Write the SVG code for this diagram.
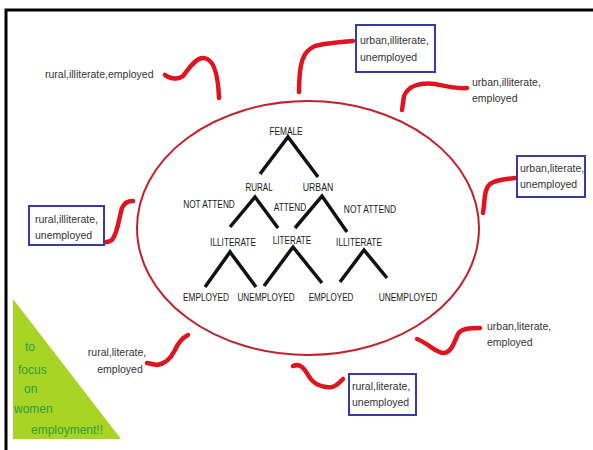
<svg xmlns="http://www.w3.org/2000/svg" width="593" height="450" viewBox="0 0 593 450">
<style>
.lbl{font-family:"Liberation Sans",Arial,sans-serif;font-size:10.5px;fill:#333}
.tree{font-family:"Liberation Sans",Arial,sans-serif;font-size:11.5px;fill:#1a1a1a;text-anchor:middle}
.green{font-family:"Liberation Sans",Arial,sans-serif;font-size:12px;fill:#2e9e3e}
.box{fill:#fff;stroke:#3a3aa6;stroke-width:2}
.branch{stroke:#111;stroke-width:3.5;fill:none;stroke-linecap:butt}
.sq{stroke:#e0141e;stroke-width:4.5;fill:none;stroke-linecap:round;stroke-linejoin:round}
</style>
<rect width="593" height="450" fill="#fff"/>
<path d="M6,450 V10 H593" fill="none" stroke="#000" stroke-width="3"/>
<ellipse cx="308" cy="228" rx="171" ry="127" fill="none" stroke="#c0222c" stroke-width="2"/>
<polygon points="13,299 13,439 121,439" fill="#a8d426"/>

<g id="connectors">
<path class="branch" d="M260,174 L288,137 L318,177"/>
<path class="branch" d="M230,227 L255,197 L278,228"/>
<path class="branch" d="M295,228 L322,196 L347,232"/>
<path class="branch" d="M205,287 L230,252 L256,287"/>
<path class="branch" d="M264,286 L293,247 L322,283"/>
<path class="branch" d="M340,282 L364,250 L387,278"/>
<path class="sq" d="M165,75 C170,79 178,80 183,76 C188,70 195,58 203,58 C212,58 218,70 219,98"/>
<path class="sq" d="M353,41 C340,42 325,43 315,46 C303,51 299,62 299,92"/>
<path class="sq" d="M467,88 C455,89 445,86 435,84 C420,82 408,86 404,96 L402,110"/>
<path class="sq" d="M515,178 C505,179 495,180 490,184 C484,189 485,200 483,213"/>
<path class="sq" d="M133,201 C128,201 124,203 122,208 C119,218 118,232 112,240 C108,243 100,243 95,242"/>
<path class="sq" d="M188,335 C182,338 178,343 175,350 C171,358 165,364 157,365 L147,363"/>
<path class="sq" d="M293,366 C300,363 304,368 308,375 C313,384 322,388 332,387 C337,386 340,382 343,379"/>
<path class="sq" d="M480,328 C470,328 462,328 458,334 C454,342 452,352 444,353 C436,353 428,343 417,339"/>
</g>

<g id="female" transform="translate(286,135) scale(0.72,1)"><text class="tree">FEMALE</text></g>
<g id="rural" transform="translate(259,191) scale(0.7,1)"><text class="tree">RURAL</text></g>
<g id="urban" transform="translate(318,191) scale(0.76,1)"><text class="tree">URBAN</text></g>
<g id="not-attend-left" transform="translate(209,208) scale(0.72,1)"><text class="tree">NOT ATTEND</text></g>
<g id="attend" transform="translate(290,211) scale(0.72,1)"><text class="tree">ATTEND</text></g>
<g id="not-attend-right" transform="translate(370,213) scale(0.73,1)"><text class="tree">NOT ATTEND</text></g>
<g id="illiterate-left" transform="translate(233,246) scale(0.72,1)"><text class="tree">ILLITERATE</text></g>
<g id="literate" transform="translate(292,244) scale(0.71,1)"><text class="tree">LITERATE</text></g>
<g id="illiterate-right" transform="translate(359,246) scale(0.72,1)"><text class="tree">ILLITERATE</text></g>
<g id="employed-1" transform="translate(206,301) scale(0.72,1)"><text class="tree">EMPLOYED</text></g>
<g id="unemployed-1" transform="translate(266,301) scale(0.71,1)"><text class="tree">UNEMPLOYED</text></g>
<g id="employed-2" transform="translate(331,301) scale(0.7,1)"><text class="tree">EMPLOYED</text></g>
<g id="unemployed-2" transform="translate(408,301) scale(0.73,1)"><text class="tree">UNEMPLOYED</text></g>

<g id="rural-illiterate-employed"><text class="lbl" x="45" y="78">rural,illiterate,employed</text></g>
<g id="urban-illiterate-unemployed">
<rect class="box" x="356" y="25" width="79" height="47"/>
<text class="lbl" x="360" y="44">urban,illiterate,</text>
<text class="lbl" x="360" y="61">unemployed</text>
</g>
<g id="urban-illiterate-employed">
<text class="lbl" x="472" y="86">urban,illiterate,</text>
<text class="lbl" x="472" y="102">employed</text>
</g>
<g id="urban-literate-unemployed">
<rect class="box" x="517" y="156" width="68" height="41"/>
<text class="lbl" x="520" y="172">urban,literate,</text>
<text class="lbl" x="520" y="188">unemployed</text>
</g>
<g id="rural-illiterate-unemployed">
<rect class="box" x="29" y="206" width="75" height="39"/>
<text class="lbl" x="35" y="223">rural,illiterate,</text>
<text class="lbl" x="35" y="239">unemployed</text>
</g>
<g id="rural-literate-employed">
<text class="lbl" x="117" y="356" text-anchor="middle">rural,literate,</text>
<text class="lbl" x="120" y="373" text-anchor="middle">employed</text>
</g>
<g id="rural-literate-unemployed">
<rect class="box" x="349" y="374" width="67" height="41"/>
<text class="lbl" x="352" y="390">rural,literate,</text>
<text class="lbl" x="352" y="406">unemployed</text>
</g>
<g id="urban-literate-employed">
<text class="lbl" x="487" y="330">urban,literate,</text>
<text class="lbl" x="487" y="346">employed</text>
</g>
<g id="focus-note">
<text class="green" x="25" y="351">to</text>
<text class="green" x="18" y="374">focus</text>
<text class="green" x="24" y="393">on</text>
<text class="green" x="14" y="413">women</text>
<text class="green" x="31" y="434">employment!!</text>
</g>
</svg>
